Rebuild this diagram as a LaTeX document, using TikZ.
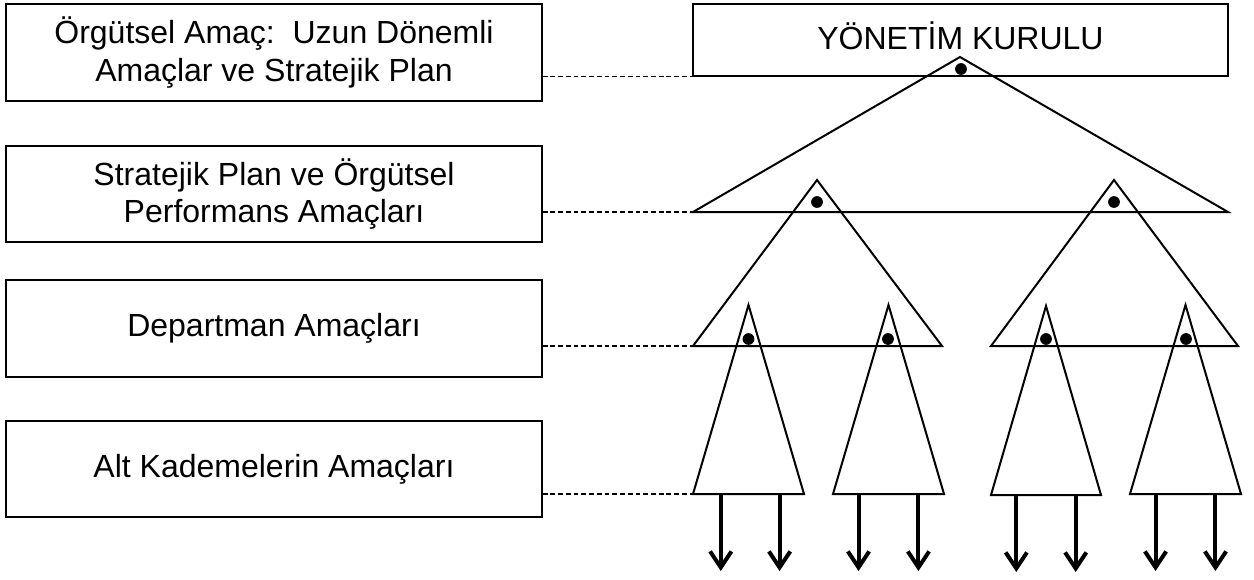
\documentclass[tikz,border=0pt]{standalone}
\usepackage{fontspec}
\setmainfont{Liberation Sans}
\usetikzlibrary{arrows.meta,calc}

\tikzset{
	goalbox/.style={draw, line width=1.1pt, inner sep=0pt, align=center, font=\fontsize{24}{28}\selectfont},
	levelline/.style={line width=0.9pt, dash pattern={on 3.6pt off 2.2pt}},
	tri/.style={line width=1.5pt, line join=miter},
	down/.style={line width=3pt, -{Straight Barb[length=12pt,width=16pt]}}
}
\tikzset{every picture/.style={line width=0.75pt}}

\begin{document}
\begin{tikzpicture}[x=0.75pt,y=0.75pt,yscale=-1,xscale=1]
	\useasboundingbox (0,0) rectangle (1254,579);

	% Text Node
	\node[goalbox, minimum width=402pt, minimum height=72.75pt] (goal1) at (274,52.5) {Örgütsel Amaç:\ \ Uzun Dönemli\\Amaçlar ve Stratejik Plan};
	% Text Node
	\node[goalbox, minimum width=402pt, minimum height=72pt] (goal2) at (274,194) {Stratejik Plan ve Örgütsel\\Performans Amaçları};
	% Text Node
	\node[goalbox, minimum width=402pt, minimum height=72.75pt] (goal3) at (274,328.5) {Departman Amaçları};
	% Text Node
	\node[goalbox, minimum width=402pt, minimum height=72pt] (goal4) at (274,469) {Alt Kademelerin Amaçları};
	% Text Node
	\node[goalbox, minimum width=401.25pt, minimum height=54pt, text height=18pt, text depth=4.5pt] (board) at (960.5,40) {YÖNETİM KURULU};

	% triangle corners
	\coordinate (top) at (960,57);   \coordinate (topL) at (693,212); \coordinate (topR) at (1228,212);
	\coordinate (m1) at (817,180);   \coordinate (m1L) at (693,346);  \coordinate (m1R) at (942,346);
	\coordinate (m2) at (1114,180);  \coordinate (m2L) at (991,346);  \coordinate (m2R) at (1238,346);
	\coordinate (s1) at (748.5,305); \coordinate (s1L) at (693,494);  \coordinate (s1R) at (804,494);
	\coordinate (s2) at (888.5,305); \coordinate (s2L) at (833,494);  \coordinate (s2R) at (944,494);
	\coordinate (s3) at (1046,306);  \coordinate (s3L) at (991,495);  \coordinate (s3R) at (1101,495);
	\coordinate (s4) at (1185.5,305);\coordinate (s4L) at (1130,494); \coordinate (s4R) at (1241,494);

	%Shape: Triangle
	\draw[tri] (top) -- (topL) -- (topR) -- cycle;
	%Shape: Triangle
	\draw[tri] (m1) -- (m1L) -- (m1R) -- cycle;
	\draw[tri] (m2) -- (m2L) -- (m2R) -- cycle;
	%Shape: Triangle
	\draw[tri] (s1) -- (s1L) -- (s1R) -- cycle;
	\draw[tri] (s2) -- (s2L) -- (s2R) -- cycle;
	\draw[tri] (s3) -- (s3L) -- (s3R) -- cycle;
	\draw[tri] (s4) -- (s4L) -- (s4R) -- cycle;

	%Shape: Circle
	\fill (961,69) circle (4.4pt);
	\fill (817,202) circle (4.4pt);
	\fill (1114,202) circle (4.4pt);
	\fill (748.5,339) circle (4.4pt);
	\fill (888,339) circle (4.4pt);
	\fill (1046,339) circle (4.4pt);
	\fill (1186,339) circle (4.4pt);

	%Straight Lines
	\draw[levelline] (goal1.east |- board.south west) -- (board.south west);
	\draw[levelline] (goal2.east |- topL) -- (topL);
	\draw[levelline] (goal3.east |- m1L) -- (m1L);
	\draw[levelline] (goal4.east |- s1L) -- (s1L);

	%Straight Lines
	\draw[down] ($(s1L)!.25!(s1R)$) -- ++(0,77);
	\draw[down] ($(s1L)!.78!(s1R)$) -- ++(0,77);
	\draw[down] ($(s2L)!.23!(s2R)$) -- ++(0,77);
	\draw[down] ($(s2L)!.77!(s2R)$) -- ++(0,77);
	\draw[down] ($(s3L)!.23!(s3R)$) -- ++(0,77);
	\draw[down] ($(s3L)!.77!(s3R)$) -- ++(0,77);
	\draw[down] ($(s4L)!.23!(s4R)$) -- ++(0,77);
	\draw[down] ($(s4L)!.77!(s4R)$) -- ++(0,77);

\end{tikzpicture}
\end{document}
